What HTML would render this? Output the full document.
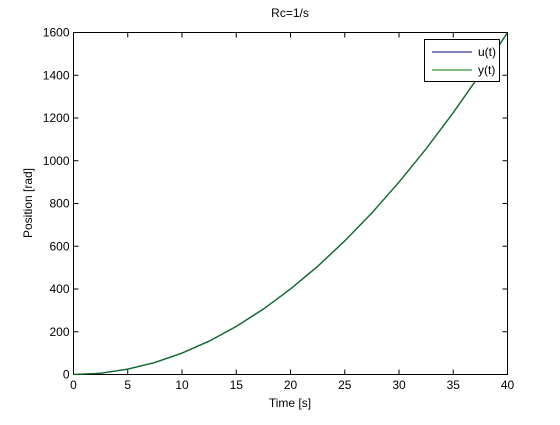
<!DOCTYPE html>
<html><head><meta charset="utf-8"><style>
html,body{margin:0;padding:0;background:#fff;}
svg text{font-family:"Liberation Sans",sans-serif;font-size:12px;fill:#000;}
</style></head><body>
<svg id="chart" width="560" height="420" xmlns="http://www.w3.org/2000/svg">
<rect x="0" y="0" width="560" height="420" fill="#fff"/>
<rect x="73.5" y="32.5" width="434" height="342" fill="#fff" stroke="#000" stroke-width="1"/>
<g id="ticks"></g>
<text x="290" y="17" text-anchor="middle">Rc=1/s</text>
<text x="290" y="407" text-anchor="middle">Time [s]</text>
<text x="0" y="0" transform="translate(32,203) rotate(-90)" text-anchor="middle">Position [rad]</text>
<g id="series"></g>
<g>
<rect x="424.5" y="39.5" width="75" height="42" fill="#fff" stroke="#000"/>
<line x1="432" y1="52" x2="472" y2="52" stroke="#00008b"/>
<text x="478" y="56">u(t)</text>
<line x1="432" y1="70" x2="472" y2="70" stroke="#007f00"/>
<text x="478" y="74">y(t)</text>
</g>
</svg>
<script>
const xTicks=[0,5,10,15,20,25,30,35,40];
const yTicks=[0,200,400,600,800,1000,1200,1400,1600];
const times=[0,2.5,5,7.5,10,12.5,15,17.5,20,22.5,25,27.5,30,32.5,35,37.5,40];
const uValues=[0,6,25,56,100,156,225,306,400,506,625,756,900,1056,1225,1406,1600];
const yValues=[0,6,25,56,100,156,225,306,400,506,625,756,900,1056,1225,1406,1600];
const X0=73.5,X1=507.5,Y0=374.5,Y1=32.5;
function sx(v){return X0+(v-0)/(40-0)*(X1-X0);}
function sy(v){return Y0-(v-0)/(1600-0)*(Y0-Y1);}
const NS="http://www.w3.org/2000/svg";
const tg=document.getElementById('ticks');
function mk(tag,attrs,parent){const e=document.createElementNS(NS,tag);for(const k in attrs)e.setAttribute(k,attrs[k]);parent.appendChild(e);return e;}
xTicks.forEach(v=>{
 const x=sx(v);
 const a=mk('line',{x1:x,y1:Y0,x2:x,y2:Y0-5,stroke:'#000'},tg);
 
 
 mk('line',{x1:x,y1:Y1,x2:x,y2:Y1+5,stroke:'#000'},tg);
 const t=mk('text',{x:x,y:389,'text-anchor':'middle'},tg);t.textContent=v;
 
 
});
yTicks.forEach(v=>{
 const y=sy(v);
 const a=mk('line',{x1:X0,y1:y,x2:X0+5,y2:y,stroke:'#000'},tg);
 
 
 mk('line',{x1:X1,y1:y,x2:X1-5,y2:y,stroke:'#000'},tg);
 const t=mk('text',{x:X0-4,y:y+4,'text-anchor':'end'},tg);t.textContent=v;
 
 
});
const sg=document.getElementById('series');
function path(vals){return times.map((t,i)=>(i?'L':'M')+sx(t).toFixed(2)+','+sy(vals[i]).toFixed(2)).join(' ');}
const pu=mk('path',{d:path(uValues),fill:'none',stroke:'#00008b','stroke-width':1.3},sg);


const py=mk('path',{d:path(yValues),fill:'none',stroke:'#007f00','stroke-width':1},sg);


</script>
</body></html>
